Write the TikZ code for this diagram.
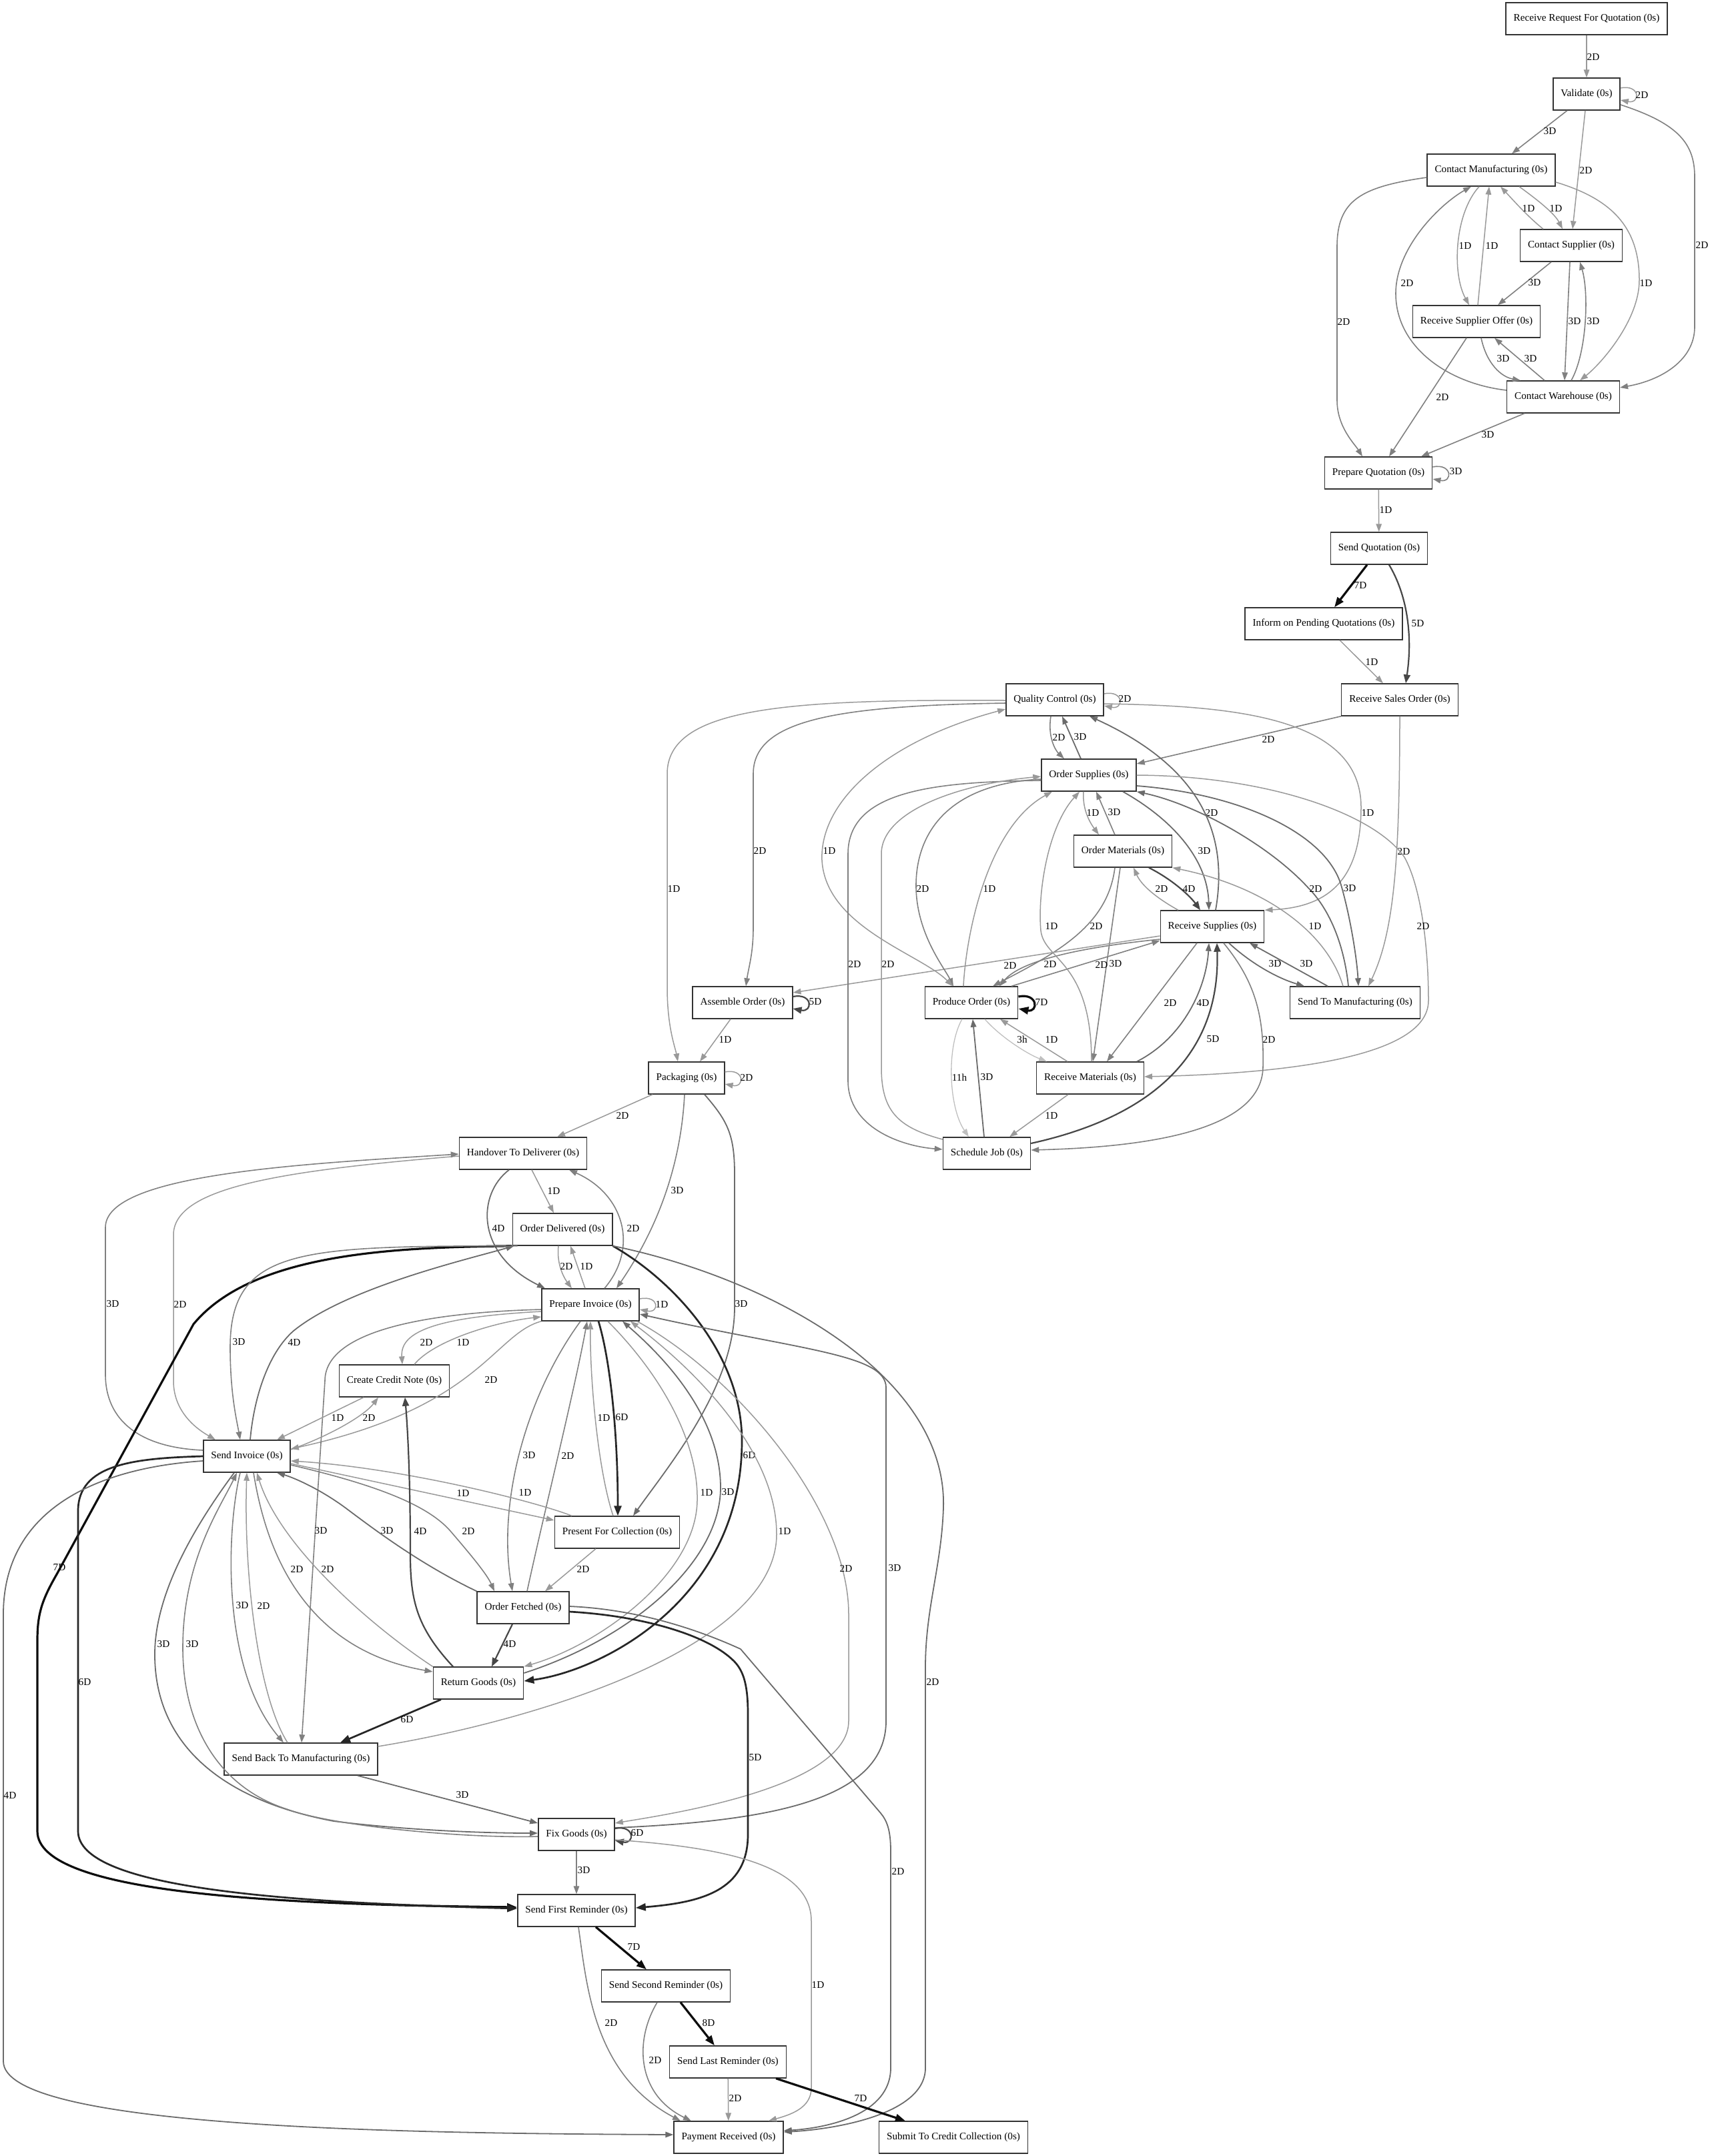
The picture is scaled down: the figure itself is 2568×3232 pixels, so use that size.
\documentclass[tikz,border=0pt]{standalone}
\usepackage{tikz}
\usepackage{xcolor}
\usepackage{fontspec}
\setmainfont{Liberation Serif}
\usetikzlibrary{arrows.meta}

\begin{document}
\begin{tikzpicture}[x=1pt, y=-1pt,
    >={Triangle[length=12pt,width=8.5pt]},
    act/.style={draw=black!80, rectangle, line width=1.4pt, minimum height=48pt, inner xsep=11.5pt, inner ysep=0pt, font=\fontsize{15.2}{18}\selectfont},
    lbl/.style={inner sep=0pt, font=\fontsize{15.2}{18}\selectfont},
    e1/.style={draw=black!25, line width=1.3pt},
    e2/.style={draw=black!40, line width=1.5pt},
    e3/.style={draw=black!50, line width=1.6pt},
    e4/.style={draw=black!58, line width=1.8pt},
    e5/.style={draw=black!72, line width=2.2pt, >={Triangle[length=13pt,width=10pt]}},
    e6/.style={draw=black!85, line width=2.7pt, >={Triangle[length=15pt,width=11pt]}},
    e7/.style={draw=black!95, line width=3.2pt, >={Triangle[length=15pt,width=11pt]}}]
    \useasboundingbox (0,0) rectangle (2568,3232);

    \node[act](rrfq) at (2378,28){Receive Request For Quotation (0s)};
    \node[act](validate) at (2378,141){Validate (0s)};
    \node[act](cmanu) at (2235,255){Contact Manufacturing (0s)};
    \node[act](csupp) at (2355,368){Contact Supplier (0s)};
    \node[act](rsoffer) at (2213,482){Receive Supplier Offer (0s)};
    \node[act](cware) at (2343,595){Contact Warehouse (0s)};
    \node[act](prepq) at (2066,709){Prepare Quotation (0s)};
    \node[act](sendq) at (2067,822){Send Quotation (0s)};
    \node[act](inform) at (1984,935){Inform on Pending Quotations (0s)};
    \node[act](rsales) at (2098,1049){Receive Sales Order (0s)};
    \node[act](qc) at (1581,1049){Quality Control (0s)};
    \node[act](osupp) at (1632,1162){Order Supplies (0s)};
    \node[act](omat) at (1683,1276){Order Materials (0s)};
    \node[act](rsupp) at (1817,1389){Receive Supplies (0s)};
    \node[act](prod) at (1456,1503){Produce Order (0s)};
    \node[act](sendman) at (2031,1503){Send To Manufacturing (0s)};
    \node[act](assemble) at (1113,1503){Assemble Order (0s)};
    \node[act](rmat) at (1634,1616){Receive Materials (0s)};
    \node[act](pack) at (1029,1616){Packaging (0s)};
    \node[act](sched) at (1479,1729){Schedule Job (0s)};
    \node[act](handover) at (784,1729){Handover To Deliverer (0s)};
    \node[act](odeliv) at (843,1843){Order Delivered (0s)};
    \node[act](pinv) at (885,1956){Prepare Invoice (0s)};
    \node[act](ccn) at (591,2070){Create Credit Note (0s)};
    \node[act](sinv) at (370,2183){Send Invoice (0s)};
    \node[act](pfc) at (925,2297){Present For Collection (0s)};
    \node[act](ofetch) at (784,2410){Order Fetched (0s)};
    \node[act](rgoods) at (717,2523){Return Goods (0s)};
    \node[act](sbtm) at (451,2637){Send Back To Manufacturing (0s)};
    \node[act](fix) at (864,2750){Fix Goods (0s)};
    \node[act](sfr) at (864,2864){Send First Reminder (0s)};
    \node[act](ssr) at (998,2977){Send Second Reminder (0s)};
    \node[act](slr) at (1091,3091){Send Last Reminder (0s)};
    \node[act](payrec) at (1092,3204){Payment Received (0s)};
    \node[act](scc) at (1429,3204){Submit To Credit Collection (0s)};

    % quotation
    \draw[e2, ->] (rrfq) -- (validate) node[lbl] at (2388,85) {2D};
    \draw[e2, ->] ([yshift=9pt]validate.east) .. controls +(30,-6) and +(30,6) .. ([yshift=-9pt]validate.east) node[lbl] at (2461,142) {2D};
    \draw[e3, ->] ([xshift=-29pt]validate.south) -- ([xshift=31pt]cmanu.north) node[lbl] at (2323,197) {3D};
    \draw[e2, ->] ([xshift=-2pt]validate.south) -- ([xshift=2pt]csupp.north) node[lbl] at (2377,255) {2D};
    \draw[e3, ->] ([yshift=-16pt]validate.east) .. controls (2515,185) and (2540,215) .. (2540,265) -- (2540,490) .. controls (2540,540) and (2490,570) .. ([yshift=14pt]cware.east) node[lbl] at (2551,367) {2D};
    \draw[e3, ->] ([yshift=-11pt]cmanu.west) .. controls (2040,280) and (2004,300) .. (2004,370) -- (2004,600) .. controls (2004,640) and (2030,665) .. ([xshift=-24pt]prepq.north) node[lbl] at (2014,482) {2D};
    \draw[e2, ->] ([xshift=-18pt]cmanu.south) .. controls (2180,320) and (2176,410) .. ([xshift=-11pt]rsoffer.north) node[lbl] at (2196,368) {1D};
    \draw[e2, ->] ([xshift=2pt]rsoffer.north) -- ([xshift=-3pt]cmanu.south) node[lbl] at (2236,368) {1D};
    \draw[e2, ->] ([xshift=-42pt]csupp.north) .. controls (2290,325) and (2268,300) .. ([xshift=14pt]cmanu.south) node[lbl] at (2291,312) {1D};
    \draw[e2, ->] ([xshift=42pt]cmanu.south) .. controls (2305,300) and (2330,320) .. ([xshift=-13pt]csupp.north) node[lbl] at (2332,312) {1D};
    \draw[e2, ->] ([yshift=-18pt]cmanu.east) .. controls (2415,298) and (2457,340) .. (2457,420) .. controls (2457,480) and (2400,545) .. ([xshift=25pt]cware.north) node[lbl] at (2467,424) {1D};
    \draw[e3, ->] ([yshift=10pt]cware.west) .. controls (2170,575) and (2092,520) .. (2092,440) .. controls (2092,370) and (2160,305) .. ([xshift=-30pt]cmanu.south) node[lbl] at (2109,424) {2D};
    \draw[e3, ->] ([xshift=-30pt]csupp.south) -- ([xshift=32pt]rsoffer.north) node[lbl] at (2300,424) {3D};
    \draw[e3, ->] ([xshift=-2pt]csupp.south) -- ([xshift=2pt]cware.north) node[lbl] at (2360,482) {3D};
    \draw[e3, ->] ([xshift=12pt]cware.north) .. controls (2378,530) and (2382,440) .. ([xshift=13pt]csupp.south) node[lbl] at (2388,482) {3D};
    \draw[e3, ->] ([xshift=7pt]rsoffer.south) .. controls (2228,545) and (2250,565) .. ([xshift=-64pt]cware.north) node[lbl] at (2253,538) {3D};
    \draw[e3, ->] ([xshift=-28pt]cware.north) -- ([xshift=27pt]rsoffer.south) node[lbl] at (2294,538) {3D};
    \draw[e3, ->] ([xshift=-15pt]rsoffer.south) -- ([xshift=16pt]prepq.north) node[lbl] at (2162,595) {2D};
    \draw[e3, ->] ([xshift=-58pt]cware.south) -- ([xshift=64pt]prepq.north) node[lbl] at (2230,652) {3D};
    \draw[e3, ->] ([yshift=9pt]prepq.east) .. controls +(30,-6) and +(30,6) .. ([yshift=-9pt]prepq.east) node[lbl] at (2182,707) {3D};

    % sales order
    \draw[e2, ->] (prepq) -- (sendq) node[lbl] at (2077,764) {1D};
    \draw[e7, ->] ([xshift=-18pt]sendq.south) -- ([xshift=16pt]inform.north) node[lbl] at (2039,878) {7D};
    \draw[e5, ->] ([xshift=15pt]sendq.south) .. controls (2108,890) and (2118,950) .. ([xshift=9pt]rsales.north) node[lbl] at (2125,935) {5D};
    \draw[e2, ->] ([xshift=24pt]inform.south) -- ([xshift=-25pt]rsales.north) node[lbl] at (2056,992) {1D};
    \draw[e3, ->] (rsales.south west) -- ([yshift=17pt]osupp.east) node[lbl] at (1901,1108) {2D};
    \draw[e2, ->] (rsales.south) .. controls (2098,1300) and (2088,1400) .. ([xshift=20pt]sendman.north) node[lbl] at (2104,1276) {2D};

    % production
    \draw[e2, ->] ([yshift=9pt]qc.east) .. controls +(30,-6) and +(30,6) .. ([yshift=-9pt]qc.east) node[lbl] at (1686,1047) {2D};
    \draw[e3, ->] ([xshift=-6pt]qc.south) .. controls (1570,1105) and (1582,1125) .. ([xshift=-37pt]osupp.north) node[lbl] at (1587,1105) {2D};
    \draw[e4, ->] ([xshift=-12pt]osupp.north) -- ([xshift=11pt]qc.south) node[lbl] at (1619,1105) {3D};
    \draw[e2, ->] ([xshift=-8pt]osupp.south) .. controls (1622,1215) and (1635,1235) .. ([xshift=-36pt]omat.north) node[lbl] at (1638,1218) {1D};
    \draw[e3, ->] ([xshift=-12pt]omat.north) -- ([xshift=11pt]osupp.south) node[lbl] at (1670,1218) {3D};
    \draw[e4, ->] ([xshift=51pt]osupp.south) .. controls (1760,1230) and (1810,1290) .. ([xshift=-5pt]rsupp.north) node[lbl] at (1805,1276) {3D};
    \draw[e4, ->] ([xshift=5pt]rsupp.north) .. controls (1842,1250) and (1800,1150) .. ([xshift=52pt]qc.south) node[lbl] at (1816,1218) {2D};
    \draw[e2, ->] ([yshift=-6pt]qc.east) .. controls (1850,1058) and (2040,1075) .. (2040,1210) .. controls (2040,1320) and (1990,1360) .. (rsupp.north east) node[lbl] at (2050,1218) {1D};
    \draw[e2, ->] (osupp.east) .. controls (1900,1163) and (2060,1220) .. (2105,1285) .. controls (2130,1330) and (2141,1420) .. (2141,1500) .. controls (2141,1590) and (1900,1610) .. ([yshift=2pt]rmat.east) node[lbl] at (2133,1388) {2D};
    \draw[e4, ->] ([xshift=-10pt]sendman.north) .. controls (2015,1420) and (1995,1365) .. (1960,1330) .. controls (1900,1265) and (1790,1205) .. (osupp.south east) node[lbl] at (1972,1332) {2D};
    \draw[e4, ->] ([yshift=-16pt]osupp.east) .. controls (1860,1190) and (1990,1250) .. (2011,1330) .. controls (2025,1380) and (2034,1440) .. ([xshift=5pt]sendman.north) node[lbl] at (2023,1332) {3D};
    \draw[e2, ->] ([xshift=-18pt]sendman.north) .. controls (1990,1400) and (1900,1330) .. (omat.south east) node[lbl] at (1971,1388) {1D};
    \draw[e5, ->] ([xshift=39pt]omat.south) .. controls (1760,1320) and (1785,1345) .. ([xshift=-18pt]rsupp.north) node[lbl] at (1782,1332) {4D};
    \draw[e2, ->] ([xshift=-51pt]rsupp.north) .. controls (1740,1350) and (1712,1330) .. ([xshift=16pt]omat.south) node[lbl] at (1741,1332) {2D};
    \draw[e4, ->] ([xshift=25pt]rsupp.south) .. controls (1870,1440) and (1910,1465) .. ([xshift=-76pt]sendman.north) node[lbl] at (1911,1445) {3D};
    \draw[e4, ->] ([xshift=-41pt]sendman.north) -- ([xshift=56pt]rsupp.south) node[lbl] at (1958,1445) {3D};
    \draw[e3, ->] ([xshift=-12pt]omat.south) .. controls (1660,1390) and (1580,1430) .. ([xshift=32pt]prod.north) node[lbl] at (1643,1388) {2D};
    \draw[e3, ->] ([xshift=-4pt]omat.south) -- ([xshift=4pt]rmat.north) node[lbl] at (1672,1445) {3D};
    \draw[e2, ->] ([yshift=-14pt]rsupp.west) -- ([yshift=15pt]assemble.east) node[lbl] at (1514,1447) {2D};
    \draw[e3, ->] ([yshift=-19pt]rsupp.west) .. controls (1620,1420) and (1530,1440) .. ([xshift=42pt]prod.north) node[lbl] at (1574,1445) {2D};
    \draw[e3, ->] ([xshift=60pt]prod.north) -- ([yshift=-21pt]rsupp.west) node[lbl] at (1651,1446) {2D};
    \draw[e2, ->] ([xshift=-12pt]prod.north) .. controls (1448,1400) and (1480,1240) .. ([xshift=-55pt]osupp.south) node[lbl] at (1483,1332) {1D};
    \draw[e3, ->] ([yshift=-6pt]osupp.west) .. controls (1420,1175) and (1372,1250) .. (1373,1330) .. controls (1374,1400) and (1415,1450) .. ([xshift=-27pt]prod.north) node[lbl] at (1383,1332) {2D};
    \draw[e2, <->] ([yshift=-14pt]qc.west) .. controls (1330,1110) and (1228,1200) .. (1232,1290) .. controls (1238,1390) and (1380,1430) .. ([xshift=-28pt]prod.north) node[lbl] at (1243,1275) {1D};
    \draw[e1, ->] ([xshift=-14pt]prod.south) .. controls (1418,1570) and (1422,1660) .. ([xshift=-27pt]sched.north) node[lbl] at (1438,1615) {11h};
    \draw[e4, ->] ([xshift=-4pt]sched.north) -- ([xshift=2pt]prod.south) node[lbl] at (1479,1615) {3D};
    \draw[e1, ->] ([xshift=20pt]prod.south) .. controls (1500,1555) and (1540,1580) .. ([xshift=-65pt]rmat.north) node[lbl] at (1532,1558) {3h};
    \draw[e2, ->] ([xshift=-34pt]rmat.north) -- ([xshift=43pt]prod.south) node[lbl] at (1576,1558) {1D};
    \draw[e2, ->] ([xshift=-33pt]rmat.south) -- ([xshift=34pt]sched.north) node[lbl] at (1576,1672) {1D};
    \draw[e5, ->] ([yshift=15pt]sched.east) .. controls (1700,1680) and (1830,1600) .. ([xshift=7pt]rsupp.south) node[lbl] at (1818,1558) {5D};
    \draw[e3, ->] ([xshift=17pt]rsupp.south) .. controls (1880,1470) and (1895,1520) .. (1893,1600) .. controls (1891,1700) and (1700,1720) .. ([yshift=5pt]sched.east) node[lbl] at (1902,1558) {2D};
    \draw[e3, ->] ([xshift=-23pt]rsupp.south) -- ([xshift=25pt]rmat.north) node[lbl] at (1754,1503) {2D};
    \draw[e4, ->] ([xshift=70pt]rmat.north) .. controls (1775,1555) and (1808,1480) .. ([xshift=-5pt]rsupp.south) node[lbl] at (1803,1503) {4D};
    \draw[e7, ->] ([yshift=9pt]prod.east) .. controls +(30,-6) and +(30,6) .. ([yshift=-9pt]prod.east) node[lbl] at (1561,1503) {7D};
    \draw[e2, ->] ([xshift=2pt]rmat.north) .. controls (1636,1440) and (1565,1440) .. (1560,1395) .. controls (1555,1340) and (1570,1240) .. ([xshift=-14pt]osupp.south) node[lbl] at (1576,1388) {1D};
    \draw[e3, ->] ([yshift=-8pt]osupp.west) .. controls (1400,1172) and (1271,1185) .. (1271,1280) -- (1271,1620) .. controls (1271,1690) and (1350,1718) .. ([yshift=6pt]sched.west) node[lbl] at (1281,1445) {2D};
    \draw[e2, ->] ([yshift=21pt]sched.west) .. controls (1345,1690) and (1321,1665) .. (1321,1600) -- (1321,1280) .. controls (1321,1215) and (1440,1175) .. ([yshift=-2pt]osupp.west) node[lbl] at (1331,1445) {2D};

    % assembly and packaging
    \draw[e2, ->] ([yshift=-1pt]qc.west) .. controls (1180,1048) and (1000,1060) .. (1000,1160) -- (1000,1480) .. controls (1000,1540) and (1012,1570) .. ([xshift=-13pt]pack.north) node[lbl] at (1010,1332) {1D};
    \draw[e3, ->] ([yshift=-5pt]qc.west) .. controls (1250,1058) and (1129,1080) .. (1129,1160) -- (1129,1390) .. controls (1129,1430) and (1122,1450) .. ([xshift=5pt]assemble.north) node[lbl] at (1139,1275) {2D};
    \draw[e5, ->] ([yshift=9pt]assemble.east) .. controls +(30,-6) and +(30,6) .. ([yshift=-9pt]assemble.east) node[lbl] at (1222,1502) {5D};
    \draw[e2, ->] ([xshift=-18pt]assemble.south) -- ([xshift=20pt]pack.north) node[lbl] at (1087,1558) {1D};
    \draw[e2, ->] ([yshift=9pt]pack.east) .. controls +(30,-6) and +(30,6) .. ([yshift=-9pt]pack.east) node[lbl] at (1119,1615) {2D};
    \draw[e2, ->] ([xshift=-51pt]pack.south) -- ([xshift=51pt]handover.north) node[lbl] at (933,1672) {2D};
    \draw[e3, ->] ([xshift=-3pt]pack.south) .. controls (1022,1720) and (1000,1820) .. ([xshift=39pt]pinv.north) node[lbl] at (1015,1785) {3D};
    \draw[e4, ->] ([xshift=27pt]pack.south) .. controls (1090,1680) and (1101,1700) .. (1101,1760) -- (1101,1960) .. controls (1101,2080) and (1000,2200) .. ([xshift=24pt]pfc.north) node[lbl] at (1111,1955) {3D};

    % delivery and invoice
    \draw[e2, ->] ([xshift=13pt]handover.south) -- ([xshift=-13pt]odeliv.north) node[lbl] at (830,1785) {1D};
    \draw[e4, ->] ([xshift=-21pt]handover.south) .. controls (715,1790) and (712,1880) .. ([xshift=-68pt]pinv.north) node[lbl] at (747,1841) {4D};
    \draw[e3, ->] ([xshift=21pt]pinv.north) .. controls (958,1870) and (935,1790) .. ([xshift=69pt]handover.south) node[lbl] at (949,1841) {2D};
    \draw[e2, ->] ([yshift=-4pt]handover.west) .. controls (420,1755) and (262,1780) .. (260,1850) -- (260,2070) .. controls (260,2120) and (300,2145) .. ([xshift=-47pt]sinv.north) node[lbl] at (270,1955) {2D};
    \draw[e3, ->] ([yshift=9pt]sinv.west) .. controls (210,2170) and (158,2130) .. (158,2060) -- (158,1840) .. controls (158,1760) and (450,1745) .. ([yshift=-1pt]handover.west) node[lbl] at (169,1955) {3D};
    \draw[e2, ->] ([xshift=-6pt]odeliv.south) .. controls (834,1895) and (845,1915) .. ([xshift=-28pt]pinv.north) node[lbl] at (849,1898) {2D};
    \draw[e2, ->] ([xshift=-8pt]pinv.north) -- ([xshift=12pt]odeliv.south) node[lbl] at (879,1898) {1D};
    \draw[e7, ->] (odeliv.south west) .. controls (600,1870) and (380,1876) .. (290,1985) -- (85,2360) .. controls (62,2400) and (56,2420) .. (56,2460) -- (56,2745) .. controls (56,2840) and (420,2855) .. ([yshift=5pt]sfr.west) node[lbl] at (89,2350) {7D};
    \draw[e3, ->] ([xshift=8pt]odeliv.south west) .. controls (450,1868) and (345,1870) .. (345,2020) .. controls (345,2090) and (355,2130) .. ([xshift=-10pt]sinv.north) node[lbl] at (358,2012) {3D};
    \draw[e4, ->] ([xshift=5pt]sinv.north) .. controls (380,2100) and (400,2030) .. (440,1995) .. controls (520,1930) and (700,1888) .. ([xshift=3pt]odeliv.south west) node[lbl] at (441,2012) {4D};
    \draw[e6, ->] (odeliv.south east) .. controls (1010,1920) and (1112,2030) .. (1112,2160) .. controls (1112,2400) and (900,2505) .. ([yshift=3pt]rgoods.east) node[lbl] at (1123,2182) {6D};
    \draw[e4, ->] (odeliv.south east) .. controls (1150,1915) and (1420,2060) .. (1414,2260) .. controls (1411,2350) and (1387,2410) .. (1387,2500) -- (1387,3100) .. controls (1387,3170) and (1250,3192) .. ([yshift=8pt]payrec.east) node[lbl] at (1398,2521) {2D};
    \draw[e2, ->] ([yshift=9pt]pinv.east) .. controls +(30,-6) and +(30,6) .. ([yshift=-7pt]pinv.east) node[lbl] at (992,1955) {1D};
    \draw[e2, ->] ([yshift=-10pt]pinv.west) .. controls (640,1975) and (600,2000) .. ([xshift=12pt]ccn.north) node[lbl] at (639,2012) {2D};
    \draw[e2, ->] ([xshift=30pt]ccn.north) .. controls (650,2010) and (740,1982) .. ([yshift=-18pt]pinv.west) node[lbl] at (694,2012) {1D};
    \draw[e2, ->] (pinv.south west) .. controls (740,2000) and (720,2110) .. ([yshift=11pt]sinv.east) node[lbl] at (736,2068) {2D};
    \draw[e3, ->] ([yshift=-7pt]pinv.west) .. controls (620,1968) and (487,2000) .. (487,2070) -- ([xshift=1pt]sbtm.north) node[lbl] at (481,2295) {3D};
    \draw[e6, ->] ([xshift=12pt]pinv.south) .. controls (915,2040) and (926,2150) .. ([xshift=1pt]pfc.north) node[lbl] at (932,2125) {6D};
    \draw[e2, ->] ([xshift=-6pt]pfc.north) .. controls (895,2200) and (884,2060) .. (pinv.south) node[lbl] at (905,2125) {1D};
    \draw[e3, ->] ([xshift=-15pt]pinv.south) .. controls (790,2090) and (745,2250) .. ([xshift=-16pt]ofetch.north) node[lbl] at (793,2182) {3D};
    \draw[e3, ->] ([xshift=6pt]ofetch.north) .. controls (815,2270) and (862,2080) .. ([xshift=-5pt]pinv.south) node[lbl] at (851,2182) {2D};
    \draw[e2, ->] ([xshift=26pt]pinv.south) .. controls (990,2060) and (1047,2160) .. (1045,2250) .. controls (1043,2360) and (900,2465) .. (rgoods.north east) node[lbl] at (1059,2237) {1D};
    \draw[e4, ->] ([yshift=15pt]rgoods.east) .. controls (950,2455) and (1080,2340) .. (1080,2230) .. controls (1080,2120) and (990,2030) .. ([xshift=48pt]pinv.south) node[lbl] at (1091,2237) {3D};
    \draw[e2, ->] ([yshift=19pt]sbtm.east) .. controls (800,2580) and (1164,2470) .. (1164,2300) .. controls (1164,2180) and (1050,2060) .. ([xshift=60pt]pinv.south) node[lbl] at (1176,2295) {1D};
    \draw[e2, ->] ([xshift=-4pt]pinv.south east) .. controls (1100,2060) and (1272,2260) .. (1272,2420) -- (1272,2580) .. controls (1272,2680) and (1000,2720) .. ([yshift=17pt]fix.east) node[lbl] at (1268,2351) {2D};
    \draw[e4, ->] ([yshift=10pt]fix.east) .. controls (1150,2730) and (1328,2700) .. (1328,2580) -- (1328,2080) .. controls (1328,2030) and (1200,2024) .. ([yshift=-14pt]pinv.east) node[lbl] at (1341,2351) {3D};

    % send invoice
    \draw[e6, ->] (sinv.west) .. controls (200,2186) and (117,2195) .. (117,2265) -- (117,2745) .. controls (117,2830) and (420,2852) .. ([yshift=3pt]sfr.west) node[lbl] at (127,2522) {6D};
    \draw[e4, ->] ([yshift=-7pt]sinv.west) .. controls (150,2200) and (5,2260) .. (5,2420) -- (5,3090) .. controls (5,3190) and (600,3198) .. ([yshift=4pt]payrec.west) node[lbl] at (15,2691) {4D};
    \draw[e2, ->] ([yshift=10pt]sinv.east) .. controls (500,2150) and (548,2120) .. ([xshift=-24pt]ccn.south) node[lbl] at (553,2125) {2D};
    \draw[e2, ->] ([xshift=-46pt]ccn.south) -- ([xshift=45pt]sinv.north) node[lbl] at (506,2125) {1D};
    \draw[e2, ->] ([yshift=-11pt]sinv.east) -- ([yshift=18pt]pfc.west) node[lbl] at (694,2238) {1D};
    \draw[e2, ->] ([xshift=-68pt]pfc.north) .. controls (800,2250) and (600,2200) .. ([yshift=-7pt]sinv.east) node[lbl] at (787,2237) {1D};
    \draw[e3, ->] ([yshift=-13pt]sinv.east) .. controls (560,2225) and (640,2255) .. (675,2295) .. controls (705,2330) and (730,2360) .. ([xshift=-43pt]ofetch.north) node[lbl] at (702,2295) {2D};
    \draw[e4, ->] (ofetch.north west) .. controls (630,2345) and (560,2292) .. (520,2262) .. controls (480,2232) and (440,2215) .. ([xshift=45pt]sinv.south) node[lbl] at (580,2295) {3D};
    \draw[e5, ->] ([xshift=-38pt]rgoods.north) .. controls (625,2440) and (615,2400) .. (615,2330) .. controls (615,2200) and (610,2130) .. ([xshift=16pt]ccn.south) node[lbl] at (630,2295) {4D};
    \draw[e3, ->] ([xshift=10pt]sinv.south) .. controls (395,2300) and (440,2470) .. ([yshift=17pt]rgoods.west) node[lbl] at (445,2352) {2D};
    \draw[e2, ->] (rgoods.north west) .. controls (560,2440) and (420,2320) .. ([xshift=15pt]sinv.south) node[lbl] at (491,2352) {2D};
    \draw[e3, ->] ([xshift=-10pt]sinv.south) .. controls (340,2290) and (330,2500) .. ([xshift=-26pt]sbtm.north) node[lbl] at (363,2407) {3D};
    \draw[e2, ->] ([xshift=-20pt]sbtm.north) .. controls (385,2540) and (365,2350) .. (sinv.south) node[lbl] at (395,2407) {2D};
    \draw[e4, ->] ([xshift=-19pt]sinv.south) .. controls (290,2290) and (232,2390) .. (232,2480) .. controls (232,2620) and (340,2700) .. (500,2730) .. controls (620,2745) and (740,2748) .. ([yshift=2pt]fix.west) node[lbl] at (245,2465) {3D};
    \draw[e3, ->] ([yshift=-3pt]fix.west) .. controls (700,2756) and (500,2738) .. (430,2712) .. controls (330,2680) and (274,2590) .. (274,2470) .. controls (274,2340) and (330,2260) .. ([xshift=-15pt]sinv.south) node[lbl] at (288,2465) {3D};

    % fetch, return, reminders
    \draw[e2, ->] ([xshift=-32pt]pfc.south) -- ([xshift=33pt]ofetch.north) node[lbl] at (874,2352) {2D};
    \draw[e5, ->] ([xshift=-16pt]ofetch.south) -- ([xshift=20pt]rgoods.north) node[lbl] at (764,2464) {4D};
    \draw[e4, ->] ([yshift=2pt]ofetch.east) .. controls (950,2412) and (1040,2440) .. (1110,2472) -- (1320,2718) .. controls (1330,2730) and (1335,2745) .. (1335,2775) -- (1335,3100) .. controls (1335,3170) and (1240,3190) .. ([yshift=10pt]payrec.east) node[lbl] at (1346,2805) {2D};
    \draw[e6, ->] ([yshift=-6pt]ofetch.east) .. controls (960,2422) and (1060,2450) .. (1100,2490) .. controls (1116,2506) and (1121,2530) .. (1121,2570) -- (1121,2750) .. controls (1121,2835) and (1050,2852) .. ([yshift=4pt]sfr.east) node[lbl] at (1132,2635) {5D};
    \draw[e6, ->] ([xshift=-56pt]rgoods.south) -- ([xshift=59pt]sbtm.north) node[lbl] at (610,2578) {6D};
    \draw[e4, ->] ([xshift=85pt]sbtm.south) -- ([yshift=17pt]fix.west) node[lbl] at (693,2691) {3D};
    \draw[e5, ->] ([yshift=9pt]fix.east) .. controls +(30,-6) and +(30,6) .. ([yshift=-9pt]fix.east) node[lbl] at (955,2748) {6D};
    \draw[e3, ->] (fix) -- (sfr) node[lbl] at (875,2804) {3D};
    \draw[e2, ->] ([yshift=-8pt]fix.east) .. controls (1100,2770) and (1216,2800) .. (1216,2880) -- (1216,3130) .. controls (1216,3160) and (1185,3170) .. ([xshift=60pt]payrec.north) node[lbl] at (1226,2975) {1D};
    \draw[e7, ->] ([xshift=29pt]sfr.south) -- ([xshift=-29pt]ssr.north) node[lbl] at (950,2918) {7D};
    \draw[e3, ->] ([xshift=3pt]sfr.south) .. controls (880,2980) and (890,3110) .. ([xshift=-72pt]payrec.north) node[lbl] at (916,3032) {2D};
    \draw[e7, ->] ([xshift=22pt]ssr.south) -- ([xshift=-20pt]slr.north) node[lbl] at (1062,3032) {8D};
    \draw[e3, ->] ([xshift=-13pt]ssr.south) .. controls (950,3060) and (955,3140) .. ([xshift=-56pt]payrec.north) node[lbl] at (982,3088) {2D};
    \draw[e2, ->] (slr) -- (payrec) node[lbl] at (1102,3145) {2D};
    \draw[e7, ->] ([xshift=72pt]slr.south) -- ([xshift=-72pt]scc.north) node[lbl] at (1290,3145) {7D};
\end{tikzpicture}
\end{document}
